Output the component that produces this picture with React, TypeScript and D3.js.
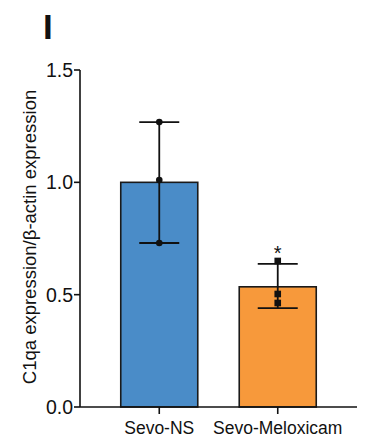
import React from "react";
import * as d3 from "d3";

const categories = ["Sevo-NS", "Sevo-Meloxicam"];
const means = [1.0, 0.535];
const errHigh = [1.268, 0.637];
const errLow = [0.73, 0.44];
const pointsNS = [1.268, 1.01, 0.73];
const pointsMelox = [0.65, 0.503, 0.463];
const yTicks = [0, 0.5, 1.0, 1.5];
const colors = ["#4A8CC8", "#F7993B"];

export default function App() {
  const width = 379, height = 441;
  const x0 = 80, x1 = 357, yTop = 70, yBot = 407;
  const y = d3.scaleLinear().domain([0, 1.5]).range([yBot, yTop]);
  const x = d3.scaleBand().domain(categories).range([x0, x1]).paddingInner(0.35).paddingOuter(0.344);
  const bw = x.bandwidth();
  const pts = [pointsNS, pointsMelox];
  const font = "Liberation Sans, Arial, sans-serif";
  return (
    <svg width={width} height={height} style={{ position: "absolute", left: 0, top: 0 }} fontFamily={font}>
      <rect width={width} height={height} fill="#fff" />
      <text x={43} y={39} fontSize={35} fontWeight="bold" fill="#111">I</text>
      {categories.map((c, i) => {
        const cx = x(c)! + bw / 2;
        return (
          <g key={c}>
            <rect x={x(c)} y={y(means[i])} width={bw} height={yBot - y(means[i])} fill={colors[i]} stroke="#1a1a1a" strokeWidth={1.6} />
            <line x1={cx} x2={cx} y1={y(errHigh[i])} y2={y(errLow[i])} stroke="#111" strokeWidth={1.8} />
            <line x1={cx - 20} x2={cx + 20} y1={y(errHigh[i])} y2={y(errHigh[i])} stroke="#111" strokeWidth={1.8} />
            <line x1={cx - 20} x2={cx + 20} y1={y(errLow[i])} y2={y(errLow[i])} stroke="#111" strokeWidth={1.8} />
            {pts[i].map((v, j) =>
              i === 0 ? (
                <circle key={j} cx={cx} cy={y(v)} r={3.3} fill="#111" />
              ) : (
                <rect key={j} x={cx - 3.3} y={y(v) - 3.3} width={6.6} height={6.6} fill="#111" />
              )
            )}
            <line x1={cx} x2={cx} y1={yBot} y2={yBot + 7} stroke="#111" strokeWidth={1.6} />
            <text x={cx} y={434} textAnchor="middle" fontSize={17.5} fill="#111">{c}</text>
          </g>
        );
      })}
      <text x={x(categories[1])! + bw / 2} y={y(pointsMelox[0]) - 1} textAnchor="middle" fontSize={20} fill="#111">*</text>
      <line x1={x0} x2={x0} y1={yTop} y2={yBot} stroke="#111" strokeWidth={1.6} />
      <line x1={x0} x2={x1} y1={yBot} y2={yBot} stroke="#111" strokeWidth={1.6} />
      {yTicks.map((t) => (
        <g key={t}>
          <line x1={x0 - 6} x2={x0} y1={y(t)} y2={y(t)} stroke="#111" strokeWidth={1.6} />
          <text x={x0 - 7} y={y(t) + 7} textAnchor="end" fontSize={19.5} fill="#111">{t.toFixed(1)}</text>
        </g>
      ))}
      <text transform={`translate(36,237) rotate(-90)`} textAnchor="middle" fontSize={18.5} fill="#111">
        C1qa expression/β-actin expression
      </text>
    </svg>
  );
}
